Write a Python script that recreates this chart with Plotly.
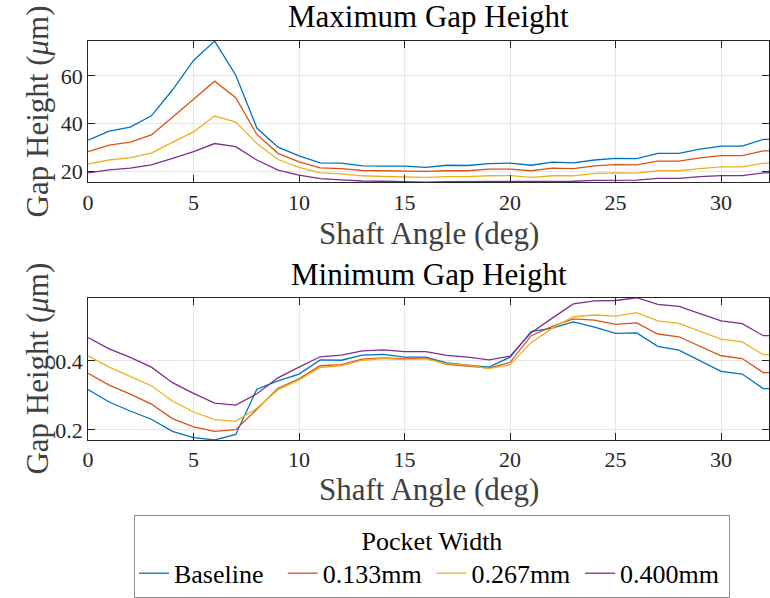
import plotly.graph_objects as go

# Shaft angle samples (deg)
shaft_angle = list(range(0, 34))

series_names = ["Baseline", "0.133mm", "0.267mm", "0.400mm"]
series_colors = ["#0072BD", "#D95319", "#EDB120", "#7E2F8E"]

# Maximum gap height (um)
max_baseline = [33.1, 36.9, 38.6, 43.3, 54.1, 66.5, 74.6, 60.3, 38.2, 30.2, 26.5, 23.6, 23.5, 22.3, 22.2, 22.2,
                21.7, 22.6, 22.5, 23.3, 23.5, 22.6, 23.9, 23.6, 24.8, 25.5, 25.4, 27.6, 27.6, 29.4, 30.6, 30.6,
                33.4, 33.4]
max_w133 = [28.3, 31.0, 32.3, 35.3, 42.7, 50.2, 57.8, 50.9, 35.5, 27.6, 24.0, 21.5, 21.2, 20.4, 20.3, 20.3,
            20.0, 20.3, 20.3, 21.0, 21.0, 20.3, 21.4, 21.2, 22.3, 22.9, 22.8, 24.3, 24.3, 25.7, 26.6, 26.6,
            28.6, 28.6]
max_w267 = [23.2, 24.8, 25.8, 27.7, 32.2, 36.6, 43.2, 40.7, 31.7, 25.0, 21.7, 19.4, 19.0, 18.2, 17.9, 17.8,
            17.5, 17.8, 17.8, 18.2, 18.3, 17.5, 18.2, 18.2, 19.2, 19.4, 19.3, 20.3, 20.3, 21.2, 21.9, 21.9,
            23.5, 23.5]
max_w400 = [19.4, 20.7, 21.4, 22.8, 25.5, 28.3, 31.7, 30.4, 24.8, 20.6, 18.5, 17.0, 16.5, 16.0, 15.9, 15.7,
            15.5, 15.7, 15.7, 16.0, 16.0, 15.7, 15.9, 15.9, 16.3, 16.4, 16.4, 17.1, 17.1, 17.8, 18.3, 18.3,
            19.4, 19.4]

# Minimum gap height (um)
min_baseline = [0.317, 0.281, 0.255, 0.231, 0.196, 0.178, 0.171, 0.187, 0.318, 0.342, 0.362, 0.403, 0.402,
                0.417, 0.419, 0.411, 0.411, 0.394, 0.388, 0.382, 0.411, 0.485, 0.495, 0.513, 0.498, 0.480,
                0.481, 0.442, 0.431, 0.401, 0.370, 0.362, 0.320, 0.320]
min_w133 = [0.364, 0.330, 0.304, 0.275, 0.233, 0.209, 0.196, 0.201, 0.260, 0.321, 0.348, 0.386, 0.389, 0.405,
            0.409, 0.406, 0.408, 0.390, 0.385, 0.379, 0.396, 0.473, 0.500, 0.522, 0.518, 0.506, 0.510, 0.478,
            0.470, 0.442, 0.415, 0.407, 0.366, 0.366]
min_w267 = [0.415, 0.382, 0.355, 0.328, 0.284, 0.252, 0.230, 0.225, 0.263, 0.316, 0.345, 0.381, 0.386, 0.402,
            0.407, 0.404, 0.406, 0.392, 0.388, 0.378, 0.389, 0.453, 0.495, 0.528, 0.533, 0.530, 0.540, 0.516,
            0.509, 0.486, 0.463, 0.455, 0.418, 0.418]
min_w400 = [0.468, 0.435, 0.410, 0.382, 0.337, 0.306, 0.278, 0.272, 0.305, 0.351, 0.382, 0.412, 0.417, 0.429,
            0.432, 0.427, 0.427, 0.416, 0.411, 0.403, 0.414, 0.482, 0.524, 0.565, 0.574, 0.575, 0.583, 0.564,
            0.558, 0.537, 0.516, 0.508, 0.473, 0.473]

x_ticks = [0, 5, 10, 15, 20, 25, 30]
y_ticks_max = [20, 40, 60]
y_ticks_min = [0.2, 0.4]
x_limits = [0, 32.27]

max_series = [max_baseline, max_w133, max_w267, max_w400]
min_series = [min_baseline, min_w133, min_w267, min_w400]

W, H = 770, 598
FONT = "Liberation Serif"
AX = "#262626"
LABEL = "#404040"


def px_y(p):
    return 1 - p / H


def px_x(p):
    return p / W


fig = go.Figure()
for name, color, ys in zip(series_names, series_colors, max_series):
    fig.add_trace(go.Scatter(x=shaft_angle, y=ys, mode="lines", name=name, legendgroup=name,
                             line=dict(color=color, width=1.3), xaxis="x", yaxis="y"))
for name, color, ys in zip(series_names, series_colors, min_series):
    fig.add_trace(go.Scatter(x=shaft_angle, y=ys, mode="lines", name=name, legendgroup=name,
                             showlegend=False, line=dict(color=color, width=1.3), xaxis="x2", yaxis="y2"))

all_max = [v for s in max_series for v in s]
all_min = [v for s in min_series for v in s]

x_dom = [px_x(83.7), 1.0]
top_dom = [px_y(185), px_y(41.7)]
bot_dom = [px_y(446.7), px_y(302.3)]
axis_common = dict(
    showline=True, linecolor=AX, linewidth=1, mirror="ticks",
    ticks="inside", ticklen=7, tickcolor=AX, tickwidth=1,
    showgrid=True, gridcolor="#e6e6e6", gridwidth=1, zeroline=False,
    tickfont=dict(family=FONT, size=22, color=AX),
)

fig.update_layout(
    width=W, height=H, margin=dict(l=0, r=0, t=0, b=0),
    paper_bgcolor="white", plot_bgcolor="white",
    xaxis=dict(domain=x_dom, range=x_limits, tickvals=x_ticks, anchor="y", **axis_common),
    yaxis=dict(domain=top_dom, range=[min(all_max), max(all_max)], tickvals=y_ticks_max,
               anchor="x", **axis_common),
    xaxis2=dict(domain=x_dom, range=x_limits, tickvals=x_ticks, anchor="y2", **axis_common),
    yaxis2=dict(domain=bot_dom, range=[min(all_min), max(all_min)], tickvals=y_ticks_min,
                tickformat=".1f", anchor="x2", **axis_common),
    showlegend=True,
    legend=dict(
        orientation="h", x=px_x(130), y=px_y(523), xanchor="left", yanchor="top",
        title=dict(text="Pocket Width", side="top center", font=dict(family=FONT, size=26, color="black")),
        font=dict(family=FONT, size=26, color="black"),
        bordercolor="#8c8c8c", borderwidth=1, bgcolor="white",
        itemwidth=30, entrywidth=103.7, entrywidthmode="pixels", tracegroupgap=0,
    ),
)

x_center = (x_dom[0] + x_dom[1]) / 2
big = dict(family=FONT, size=31)

# Panel titles
for text, ypix in [("Maximum Gap Height", 17), ("Minimum Gap Height", 279)]:
    fig.add_annotation(text=text, x=x_center, y=px_y(ypix), xref="paper", yref="paper",
                       xanchor="center", yanchor="middle", showarrow=False,
                       font=dict(big, color="black"))

# Axis labels
for ypix in [237, 497]:
    fig.add_annotation(text="Shaft Angle (deg)", x=x_center, y=px_y(ypix), xref="paper", yref="paper",
                       xanchor="center", yanchor="middle", showarrow=False,
                       font=dict(big, color=LABEL))
for dom in [top_dom, bot_dom]:
    fig.add_annotation(text="Gap Height (<i>μ</i>m)", x=px_x(33), y=(dom[0] + dom[1]) / 2,
                       xref="paper", yref="paper", xanchor="center", yanchor="middle",
                       textangle=-90, showarrow=False, font=dict(big, color=LABEL))

# Divider between the legend header and its entries
fig.add_shape(type="line", xref="paper", yref="paper", x0=px_x(134), x1=px_x(727.5),
              y0=px_y(560), y1=px_y(560), line=dict(color="#8c8c8c", width=1))

fig.write_html("out.html")
